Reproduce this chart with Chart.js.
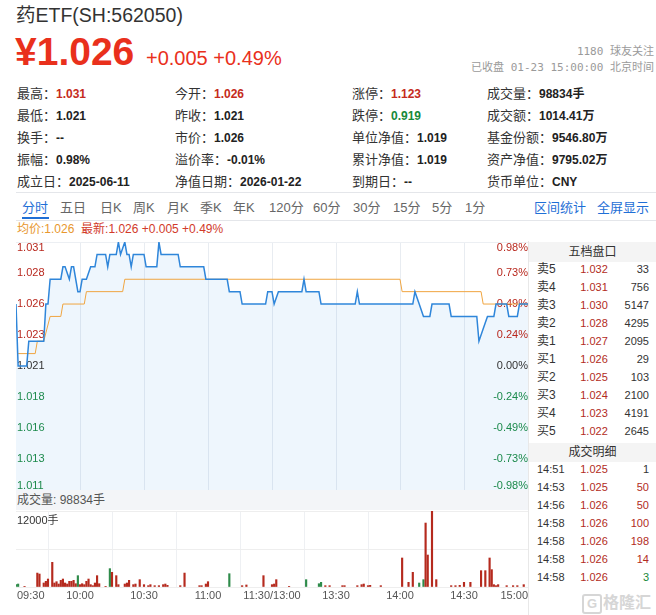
<!DOCTYPE html>
<html><head><meta charset="utf-8">
<script src="https://cdn.jsdelivr.net/npm/chart.js@4/dist/chart.umd.min.js"></script>
<style>
body{margin:0;width:656px;height:615px;overflow:hidden;background:#fff;position:relative;font-family:"Liberation Sans","Noto Sans CJK SC",sans-serif;color:#333}
.t{position:absolute;white-space:nowrap}
canvas{position:absolute}
</style></head><body>
<div id="root"></div>
<canvas id="price" width="512" height="248" style="left:16px;top:242px"></canvas>
<canvas id="vol" width="512" height="94" style="left:16px;top:511px"></canvas>
<script>
// ---------------- data ----------------
const prevClose = 1.021;
const pctStep = 0.00245;
const priceTickLabels = ['1.031','1.028','1.026','1.023','1.021','1.018','1.016','1.013','1.011'];
const pctTickLabels = ['0.98%','0.73%','0.49%','0.24%','0.00%','-0.24%','-0.49%','-0.73%','-0.98%'];
const timeTickMinutes = [0,30,60,90,120,150,180,210,240];
const timeTickLabels = ['09:30','10:00','10:30','11:00','11:30/13:00','13:30','14:00','14:30','15:00'];

const priceMinutes = [0,1,5,6,13,14,15,16,21,22,23,25,26,27,29,30,31,33,35,37,38,42,43,44,47,48,49,51,52,53,54,55,60,61,66,67,68,76,77,88,89,99,100,105,106,117,118,120,121,123,134,135,136,142,143,159,160,161,186,187,189,191,194,195,203,204,216,217,219,221,224,225,230,231,235,236,240];
const priceValues = [1.026,1.021,1.021,1.023,1.023,1.026,1.026,1.028,1.028,1.029,1.029,1.028,1.029,1.029,1.027,1.027,1.028,1.028,1.029,1.029,1.030,1.030,1.029,1.030,1.030,1.031,1.030,1.031,1.030,1.030,1.029,1.030,1.030,1.029,1.029,1.031,1.030,1.030,1.029,1.029,1.028,1.028,1.027,1.027,1.026,1.026,1.027,1.027,1.026,1.027,1.027,1.028,1.027,1.027,1.026,1.026,1.027,1.026,1.026,1.027,1.026,1.025,1.025,1.026,1.026,1.025,1.025,1.023,1.024,1.025,1.025,1.026,1.026,1.025,1.025,1.026,1.026];

const avgMinutes = [1,9,10,13,16,21,22,32,33,50,51,180,181,218,219,240];
const avgValues = [1.022,1.022,1.023,1.023,1.025,1.025,1.026,1.026,1.027,1.027,1.028,1.028,1.027,1.027,1.026,1.026];

const volMinutes = [0,1,4,10,11,13,14,15,17,18,19,20,21,22,23,24,25,26,27,28,29,30,31,32,33,34,35,36,37,38,39,42,44,45,47,48,51,52,53,55,56,58,60,62,63,65,67,69,70,71,77,79,86,87,89,90,100,106,108,116,120,121,122,128,136,142,143,145,147,153,154,160,162,163,165,166,171,181,184,186,189,191,192,193,195,197,204,206,208,210,213,218,220,222,223,224,225,226,230,233,235,238];
const volValues = [370,470,110,2200,2050,630,900,1260,3900,630,840,470,1050,1260,630,470,900,900,1050,520,1790,370,520,370,900,1260,370,210,630,1790,520,110,2900,2320,1790,370,470,630,1050,370,470,1160,370,210,370,210,210,370,470,260,210,2200,210,210,470,840,2100,210,320,1790,370,470,1160,110,1160,520,740,210,210,210,210,210,370,470,210,260,210,4580,740,2320,630,1160,10100,5050,12000,1160,210,210,260,740,740,2580,2580,4580,2740,370,210,370,210,210,210,370];
const volDownMinutes = [0,1,29,44,100,136,142,143,189,191];
const volMax = 12000;

// ---------------- page text ----------------
const RED='#c52b20', GREEN='#17893a', DARK='#222';
const infoRows = [
  [['最高：','1.031','r'],['今开：','1.026','r'],['涨停：','1.123','r'],['成交量：','98834手','d']],
  [['最低：','1.021','d'],['昨收：','1.021','d'],['跌停：','0.919','g'],['成交额：','1014.41万','d']],
  [['换手：','--','d'],['市价：','1.026','d'],['单位净值：','1.019','d'],['基金份额：','9546.80万','d']],
  [['振幅：','0.98%','d'],['溢价率：','-0.01%','d'],['累计净值：','1.019','d'],['资产净值：','9795.02万','d']],
  [['成立日：','2025-06-11','d'],['净值日期：','2026-01-22','d'],['到期日：','--','d'],['货币单位：','CNY','d']]
];
const infoColX = [17,175,352,487];
const infoRowY = [93,115,137,159,181];
const tabNames = ['分时','五日','日K','周K','月K','季K','年K','120分','60分','30分','15分','5分','1分'];
const tabX = [22,60,100,133,167,200,233,269,313,353,393,432,465];
const bookLabels = ['卖5','卖4','卖3','卖2','卖1','买1','买2','买3','买4','买5'];
const bookPrices = ['1.032','1.031','1.030','1.028','1.027','1.026','1.025','1.024','1.023','1.022'];
const bookVols = ['33','756','5147','4295','2095','29','103','2100','4191','2645'];
const tradeTimes = ['14:51','14:53','14:56','14:58','14:58','14:58','14:58'];
const tradePrices = ['1.025','1.025','1.026','1.026','1.026','1.026','1.026'];
const tradeVols = ['1','50','50','100','198','14','3'];
const tradeDir = ['n','r','r','r','r','r','g'];

let h='';
function T(x,y,txt,style){h+=`<div class="t" style="left:${x}px;top:${y}px;${style||''}">${txt}</div>`;}
T(16,4,'药ETF(SH:562050)','font-size:19.5px;line-height:22px;color:#333');
T(15,32,'¥1.026','font-size:39px;line-height:39px;font-weight:bold;color:#e9301c');
T(146,48,'+0.005 +0.49%','font-size:20px;line-height:20px;color:#e9301c');
h+=`<div class="t" style="right:2px;top:45px;font-size:11px;line-height:14px;color:#9a9a9a;font-family:'DejaVu Sans Mono','Noto Sans CJK SC',monospace">1180 球友关注</div>`;
h+=`<div class="t" style="right:2px;top:61px;font-size:11px;line-height:14px;color:#9a9a9a;font-family:'DejaVu Sans Mono','Noto Sans CJK SC',monospace">已收盘 01-23 15:00:00 北京时间</div>`;
infoRows.forEach((row,ri)=>row.forEach((c,ci)=>{
  const col = c[2]==='r'?RED:(c[2]==='g'?GREEN:DARK);
  T(infoColX[ci],infoRowY[ri]-10,`<span style="font-size:13px">${c[0]}</span><span style="font-size:12px;font-weight:bold;color:${col}">${c[1]}</span>`,'line-height:20px;color:#333');
}));
// tab bar
h+=`<div class="t" style="left:16px;top:192px;width:640px;height:27px;border-top:1px solid #e4e6ea;border-bottom:1px solid #e4e6ea"></div>`;
tabNames.forEach((n,i)=>T(tabX[i],198,n,`font-size:13px;line-height:20px;color:${i===0?'#1f6fd6':'#666'}`));
h+=`<div class="t" style="left:22px;top:217px;width:27px;height:2px;background:#1f6fd6"></div>`;
T(534,198,'区间统计','font-size:13px;line-height:20px;color:#1f6fd6');
T(597,198,'全屏显示','font-size:13px;line-height:20px;color:#1f6fd6');
// legend row
T(17,221,'<span style="color:#e8972e">均价:1.026</span>&nbsp;&nbsp;<span style="color:#d23a2a">最新:1.026 +0.005 +0.49%</span>','font-size:12px;line-height:16px');
// volume header band
h+=`<div class="t" style="left:16px;top:490px;width:512px;height:20px;background:#f3f5f8"></div>`;
T(17,492,'成交量: 98834手','font-size:12px;line-height:16px;color:#555');
// right panel
h+=`<div class="t" style="left:528px;top:241px;width:1px;height:374px;background:#e8e8e8"></div>`;
h+=`<div class="t" style="left:529px;top:242px;width:127px;height:20px;background:#f4f4f4;text-align:center;font-size:12px;line-height:20px;color:#333">五档盘口</div>`;
bookLabels.forEach((l,i)=>{
  const y=269+18*i-9;
  T(537,y,l,'font-size:12px;line-height:18px;color:#333');
  h+=`<div class="t" style="left:574px;top:${y}px;width:40px;text-align:center;font-size:11px;line-height:18px;color:#b22b22">${bookPrices[i]}</div>`;
  h+=`<div class="t" style="right:7px;top:${y}px;font-size:11px;line-height:18px;color:#333">${bookVols[i]}</div>`;
});
h+=`<div class="t" style="left:529px;top:443px;width:127px;height:19px;background:#f4f4f4;text-align:center;font-size:12px;line-height:19px;color:#333">成交明细</div>`;
tradeTimes.forEach((tm,i)=>{
  const y=469+18*i-9;
  const vc = tradeDir[i]==='r'?'#b22b22':(tradeDir[i]==='g'?GREEN:'#333');
  T(537,y,tm,'font-size:11px;line-height:18px;color:#333');
  h+=`<div class="t" style="left:574px;top:${y}px;width:40px;text-align:center;font-size:11px;line-height:18px;color:#b22b22">${tradePrices[i]}</div>`;
  h+=`<div class="t" style="right:7px;top:${y}px;font-size:11px;line-height:18px;color:${vc}">${tradeVols[i]}</div>`;
});
// watermark
h+=`<div class="t" style="left:582px;top:594px;width:16px;height:16px;border:2px solid #d6d6d6;border-radius:3px;color:#d6d6d6;font-size:13px;line-height:16px;text-align:center;font-weight:bold">G</div>`;
T(603,593,'格隆汇','font-size:16px;line-height:20px;color:#d6d6d6;font-weight:bold');
document.getElementById('root').innerHTML=h;

// ---------------- charts ----------------
const yMin = prevClose*(1-pctStep*4), yMax = prevClose*(1+pctStep*4);
const priceTickValues = priceTickLabels.map((_,i)=>prevClose*(1+pctStep*(4-i)));
const priceData = priceMinutes.map((m,i)=>({x:m,y:priceValues[i]}));
const avgData = avgMinutes.map((m,i)=>({x:m,y:avgValues[i]}));

const priceLabelPlugin = {
  id:'priceLabels',
  afterDatasetDraw(chart,args){
    if(args.index!==2) return;
    const {ctx,chartArea:a,scales:{y}} = chart;
    ctx.save();
    ctx.font='11px "Liberation Sans", Arial, sans-serif';
    ctx.textBaseline='middle';
    priceTickValues.forEach((v,i)=>{
      let py=y.getPixelForValue(v);
      py=Math.min(Math.max(py,a.top+6),a.bottom-4);
      ctx.fillStyle = i<4?'#b8281e':(i===4?'#333':'#1c8a4c');
      ctx.textAlign='left'; ctx.fillText(priceTickLabels[i],a.left+1,py);
      ctx.textAlign='right'; ctx.fillText(pctTickLabels[i],a.right,py);
    });
    ctx.restore();
  }
};

new Chart(document.getElementById('price'),{
  type:'line',
  data:{datasets:[
    {data:priceData,borderColor:'#2f86da',borderWidth:1.5,pointRadius:0,fill:false,tension:0,order:0},
    {data:avgData,borderColor:'#f0a540',borderWidth:1,pointRadius:0,fill:false,tension:0,order:1},
    {data:priceData,borderColor:'rgba(0,0,0,0)',borderWidth:0,backgroundColor:'rgba(70,150,235,0.09)',pointRadius:0,fill:'start',tension:0,order:2}
  ]},
  options:{responsive:false,animation:false,events:[],layout:{padding:0},
    plugins:{legend:{display:false},tooltip:{enabled:false}},
    scales:{
      x:{type:'linear',min:0,max:240,
        afterBuildTicks:s=>{s.ticks=timeTickMinutes.map(v=>({value:v}));},
        ticks:{display:false},border:{display:false},
        grid:{drawTicks:false,color:c=>(c.tick&&(c.tick.value===0||c.tick.value===240))?'rgba(0,0,0,0)':'#e8ecf1'}},
      y:{min:yMin,max:yMax,
        afterBuildTicks:s=>{s.ticks=priceTickValues.map(v=>({value:v}));},
        ticks:{display:false},border:{display:false},
        grid:{drawTicks:false,color:c=>c.index===0?'#eceff3':'rgba(0,0,0,0)'}}
    }
  },
  plugins:[priceLabelPlugin]
});

const volLabelPlugin = {
  id:'volLabels',
  afterDraw(chart){
    const {ctx,chartArea:a,scales:{x}} = chart;
    ctx.save();
    ctx.font='11px "Liberation Sans", Arial, sans-serif';
    ctx.fillStyle='#555';
    ctx.textBaseline='middle';
    timeTickMinutes.forEach((m,i)=>{
      const px=x.getPixelForValue(m);
      ctx.textAlign = i===0?'left':(i===timeTickMinutes.length-1?'right':'center');
      ctx.fillText(timeTickLabels[i], i===0?px+1:px, a.bottom+9);
    });
    ctx.fillStyle='#333';
    ctx.textAlign='left';
    ctx.font='11px "Liberation Sans", "Noto Sans CJK SC", sans-serif';
    ctx.fillText(volMax+'手',a.left+1,a.top+10);
    ctx.restore();
  }
};

new Chart(document.getElementById('vol'),{
  type:'bar',
  data:{datasets:[{
    data:volMinutes.map((m,i)=>({x:m,y:volValues[i]})),
    backgroundColor:volMinutes.map(m=>volDownMinutes.includes(m)?'#2e8b4a':'#b52a1e'),
    barThickness:1.5,borderWidth:0
  }]},
  options:{responsive:false,animation:false,events:[],layout:{padding:{top:0,bottom:18,left:0,right:0}},
    plugins:{legend:{display:false},tooltip:{enabled:false}},
    scales:{
      x:{type:'linear',min:0,max:240,offset:false,
        afterBuildTicks:s=>{s.ticks=timeTickMinutes.map(v=>({value:v}));},
        ticks:{display:false},border:{display:false},
        grid:{drawTicks:false,color:c=>(c.tick&&(c.tick.value===0||c.tick.value===240))?'rgba(0,0,0,0)':'#eef0f3'}},
      y:{min:0,max:volMax,
        afterBuildTicks:s=>{s.ticks=[0,volMax/2,volMax].map(v=>({value:v}));},
        ticks:{display:false},border:{display:false},
        grid:{drawTicks:false,color:'#eeeeee'}}
    }
  },
  plugins:[volLabelPlugin]
});
</script>
</body></html>
